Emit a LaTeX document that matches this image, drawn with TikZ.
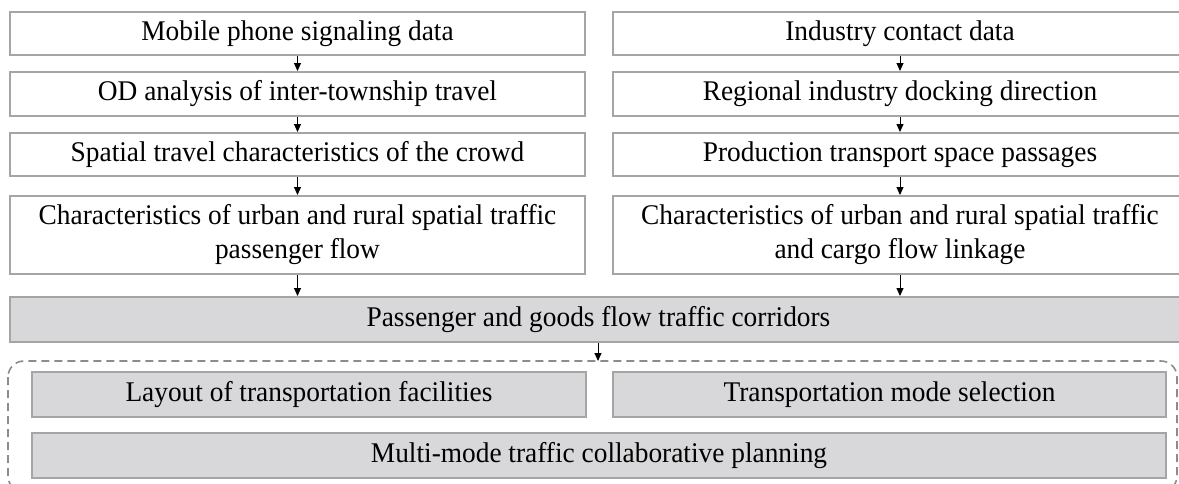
\documentclass[tikz,border=0pt]{standalone}
\usepackage{fontspec}
\setmainfont[FakeStretch=0.96]{Liberation Serif}
\usetikzlibrary{arrows.meta}
\definecolor{boxline}{RGB}{165,165,165}
\definecolor{boxfill}{RGB}{216,216,218}
\definecolor{dashline}{RGB}{140,140,140}
\tikzset{
  box/.style={draw=boxline, line width=2pt, fill=white, inner sep=0pt, align=center,
    font=\fontsize{28.5}{34}\selectfont},
  graybox/.style={box, fill=boxfill},
  arr/.style={-{Triangle[length=8pt,width=7pt]}, line width=1pt, black},
  dashbox/.style={draw=dashline, line width=1.6pt, dash pattern=on 8pt off 5pt, rounded corners=16pt},
}
\begin{document}
\begin{tikzpicture}[x=1pt,y=-1pt]
\useasboundingbox (0,0) rectangle (1179,483);
\clip (0,0) rectangle (1179,483);
% left column
\node[box, minimum width=575pt, minimum height=43pt] (l1) at (297.5,33.5) {Mobile phone signaling data};
\node[box, minimum width=575pt, minimum height=44pt] (l2) at (297.5,94) {OD analysis of inter-township travel};
\node[box, minimum width=575pt, minimum height=43pt] (l3) at (297.5,154.5) {Spatial travel characteristics of the crowd};
\node[box, minimum width=575pt, minimum height=78pt] (l4) at (297.5,235) {Characteristics of urban and rural spatial traffic\\passenger flow};
% right column
\node[box, minimum width=574pt, minimum height=43pt] (r1) at (900,33.5) {Industry contact data};
\node[box, minimum width=574pt, minimum height=44pt] (r2) at (900,94) {Regional industry docking direction};
\node[box, minimum width=574pt, minimum height=43pt] (r3) at (900,154.5) {Production transport space passages};
\node[box, minimum width=574pt, minimum height=78pt] (r4) at (900,235) {Characteristics of urban and rural spatial traffic\\and cargo flow linkage};
% corridor
\node[graybox, minimum width=1177pt, minimum height=45pt] (g) at (598.5,319.5) {Passenger and goods flow traffic corridors};
% dashed group
\draw[dashbox] (8,361) rectangle (1177,492);
\coordinate (dtop) at (598,361);
\node[graybox, minimum width=554pt, minimum height=45pt] (a) at (309,394.5) {Layout of transportation facilities};
\node[graybox, minimum width=553pt, minimum height=45pt] (b) at (889.5,394.5) {Transportation mode selection};
\node[graybox, minimum width=1134pt, minimum height=45pt] (m) at (599,455.5) {Multi-mode traffic collaborative planning};
% arrows
\draw[arr] (l1) -- (l2);
\draw[arr] (l2) -- (l3);
\draw[arr] (l3) -- (l4);
\draw[arr] (l4.south) -- (l4.south |- g.north);
\draw[arr] (r1) -- (r2);
\draw[arr] (r2) -- (r3);
\draw[arr] (r3) -- (r4);
\draw[arr] (r4.south) -- (r4.south |- g.north);
\draw[arr] (g.south -| dtop) -- (dtop);
\end{tikzpicture}
\end{document}
